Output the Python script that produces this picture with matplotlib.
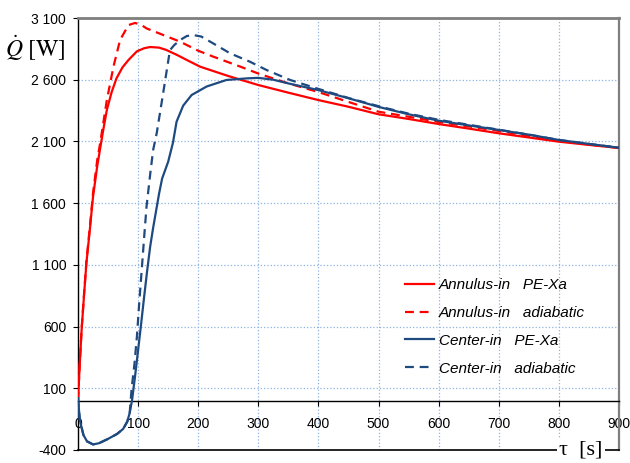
#!/usr/bin/env python3
"""Heat flow rate Q vs time for annulus-in / center-in, PE-Xa vs adiabatic."""

import matplotlib

matplotlib.use("Agg")
import matplotlib.pyplot as plt
from matplotlib.ticker import FixedLocator, FuncFormatter

RED = "#ff0000"
BLUE = "#1f4a80"
GRID = "#8db3e2"

# Annulus-in, PE-Xa (red solid)
ann_pexa_t = [0, 3, 6, 10, 14, 20, 25, 32, 42, 48, 56, 64, 74, 84, 98, 110, 120,
              135, 147, 165, 181, 203, 250, 300, 350, 400, 450, 500, 550, 600,
              650, 700, 750, 800, 850, 900]
ann_pexa_q = [0, 305, 572, 850, 1114, 1400, 1652, 1900, 2193, 2355, 2500, 2611,
              2700, 2760, 2830, 2855, 2865, 2860, 2841, 2800, 2760, 2706, 2630,
              2557, 2495, 2435, 2381, 2320, 2282, 2241, 2204, 2166, 2132, 2098,
              2072, 2047]

# Annulus-in, adiabatic (red dashed)
ann_adia_t = [0, 3, 6, 10, 14, 20, 25, 32, 37, 48, 59, 70, 84, 95, 105, 114,
              142, 170, 200, 225, 270, 300, 350, 400, 450, 500, 550, 600, 650,
              700, 750, 800, 850, 900]
ann_adia_q = [0, 310, 580, 860, 1130, 1420, 1680, 1950, 2090, 2435, 2706, 2922,
              3043, 3060, 3045, 3016, 2962, 2908, 2835, 2787, 2706, 2650, 2570,
              2500, 2420, 2341, 2300, 2258, 2222, 2185, 2145, 2105, 2075, 2047]

# Center-in, PE-Xa (blue solid)
cen_pexa_t = [0, 3, 9, 15, 25, 35, 50, 65, 75, 82, 86, 90, 95, 100, 105, 110,
              115, 120, 125, 130, 135, 140, 150, 158, 164, 175, 189, 214, 247,
              281, 300, 325, 350, 400, 450, 500, 550, 600, 650, 700, 750, 800,
              850, 900]
cen_pexa_q = [20, -157, -278, -330, -355, -345, -310, -270, -230, -170, -100, 5,
              200, 410, 620, 840, 1050, 1245, 1400, 1540, 1680, 1800, 1935, 2090,
              2260, 2390, 2476, 2545, 2598, 2611, 2615, 2600, 2570, 2516, 2450,
              2380, 2320, 2268, 2230, 2193, 2155, 2112, 2080, 2049]

# Center-in, adiabatic (blue dashed)
cen_adia_t = [0, 3, 9, 15, 25, 35, 50, 65, 75, 82, 86, 89, 94, 98, 102, 106,
              110, 114, 120, 125, 131, 140, 153, 160, 170, 181, 192, 205, 225,
              253, 286, 314, 353, 397, 452, 508, 550, 600, 650, 700, 750, 800,
              850, 900]
cen_adia_q = [20, -157, -278, -330, -355, -345, -310, -270, -230, -170, -100, 86,
              300, 518, 800, 1058, 1320, 1571, 1830, 2030, 2168, 2440, 2840, 2880,
              2922, 2954, 2962, 2950, 2894, 2814, 2746, 2678, 2598, 2530, 2449,
              2375, 2325, 2275, 2235, 2195, 2155, 2112, 2080, 2049]

series_labels = ["Annulus-in   PE-Xa", "Annulus-in   adiabatic",
                 "Center-in   PE-Xa", "Center-in   adiabatic"]

x_ticks = [0, 100, 200, 300, 400, 500, 600, 700, 800, 900]
y_ticks = [-400, 100, 600, 1100, 1600, 2100, 2600, 3100]


def main() -> int:
    plt.rcParams["font.family"] = ["Liberation Sans", "DejaVu Sans"]
    plt.rcParams["mathtext.fontset"] = "stix"

    fig = plt.figure(figsize=(6.3, 4.63), dpi=100)
    ax = fig.add_axes([0.1238, 0.0281, 0.8587, 0.933])

    dash = (4, 2.6)
    ax.plot(ann_pexa_t, ann_pexa_q, color=RED, lw=1.6, label=series_labels[0], zorder=4)
    ax.plot(ann_adia_t, ann_adia_q, color=RED, lw=1.6, dashes=dash,
            label=series_labels[1], zorder=4)
    ax.plot(cen_pexa_t, cen_pexa_q, color=BLUE, lw=1.6, label=series_labels[2], zorder=5)
    ax.plot(cen_adia_t, cen_adia_q, color=BLUE, lw=1.6, dashes=dash,
            label=series_labels[3], zorder=5)

    ax.set_xlim(0, 900)
    ax.set_ylim(-400, 3100)
    ax.xaxis.set_major_locator(FixedLocator(x_ticks))
    ax.yaxis.set_major_locator(FixedLocator(y_ticks))
    ax.yaxis.set_major_formatter(FuncFormatter(lambda v, _: f"{int(v):,}".replace(",", " ")))
    ax.grid(True, color=GRID, ls=":", lw=0.9)
    ax.set_axisbelow(True)

    # x axis runs along Q = 0, the frame bottom is a plain line at -400
    ax.spines["bottom"].set_position(("data", 0))
    ax.spines["bottom"].set_color("black")
    ax.spines["bottom"].set_linewidth(1.0)
    ax.spines["left"].set_color("black")
    ax.spines["left"].set_linewidth(1.0)
    ax.spines["top"].set_color("#7f7f7f")
    ax.spines["top"].set_linewidth(2.0)
    ax.spines["right"].set_color("#7f7f7f")
    ax.spines["right"].set_linewidth(1.6)
    ax.axhline(-400, color="black", lw=1.2, clip_on=False, zorder=6)

    ax.tick_params(axis="x", direction="out", length=3.5, width=0.8, pad=8,
                   labelsize=10)
    ax.tick_params(axis="y", direction="out", length=3.5, width=0.8, pad=5,
                   labelsize=10)

    ax.text(-0.022, 0.93, r"$\dot{Q}\ [\mathrm{W}]$", transform=ax.transAxes,
            ha="right", va="center", fontsize=17)
    ax.text(0.93, 0.0, "τ  [s]", transform=ax.transAxes, ha="center",
            va="center", fontsize=16, family="Liberation Serif", zorder=7,
            bbox=dict(facecolor="white", edgecolor="none", pad=1.5))

    leg = ax.legend(loc="center left", bbox_to_anchor=(0.594, 0.285),
                    frameon=False, handlelength=1.85, handletextpad=0.33,
                    labelspacing=0.9, borderaxespad=0,
                    prop={"style": "italic", "size": 11})
    for t in leg.get_texts():
        t.set_family(["Liberation Sans", "DejaVu Sans"])

    fig.savefig("out.png", dpi=100)
    plt.close(fig)
    return 0


if __name__ == "__main__":
    raise SystemExit(main())
